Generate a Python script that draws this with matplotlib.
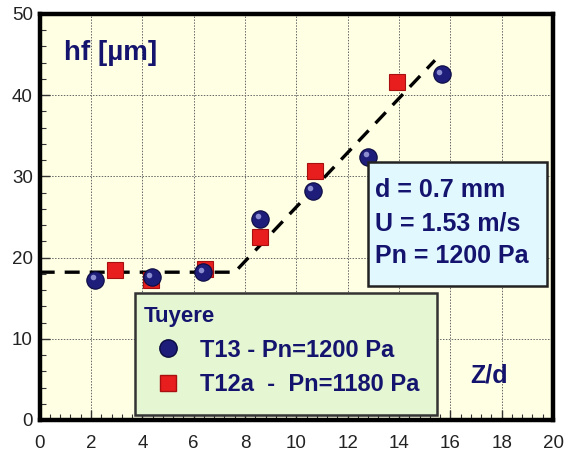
import matplotlib
matplotlib.use("Agg")
import matplotlib.pyplot as plt
from matplotlib.patches import Rectangle
from matplotlib.lines import Line2D
from matplotlib.transforms import offset_copy

# ---- data ----
t13_x = [2.16, 4.36, 6.38, 8.59, 10.64, 12.81, 15.67]
t13_y = [17.3, 17.55, 18.2, 24.8, 28.2, 32.4, 42.6]
t12a_x = [2.94, 4.32, 6.44, 8.59, 10.73, 13.93]
t12a_y = [18.5, 17.3, 18.6, 22.5, 30.7, 41.6]
fit_x = [0.0, 7.6, 15.4]
fit_y = [18.2, 18.2, 44.3]
x_ticks = [0, 2, 4, 6, 8, 10, 12, 14, 16, 18, 20]
y_ticks = [0, 10, 20, 30, 40, 50]
legend_title = "Tuyere"
label_t13 = "T13 - Pn=1200 Pa"
label_t12a = "T12a  -  Pn=1180 Pa"
info_lines = ["d = 0.7 mm", "U = 1.53 m/s", "Pn = 1200 Pa"]

NAVY = "#14146e"
BOLD = ["Liberation Sans", "DejaVu Sans"]

fig = plt.figure(figsize=(5.71, 4.58), dpi=100)
fig.patch.set_facecolor("white")
ax = fig.add_axes([0.0695, 0.083, 0.899, 0.8865])
ax.set_facecolor("#FFFFE4")
ax.set_xlim(0, 20)
ax.set_ylim(0, 50)

for s in ax.spines.values():
    s.set_linewidth(3.2)
    s.set_color("black")

ax.set_xticks(x_ticks)
ax.set_yticks(y_ticks)
ax.set_xticks([i * 0.4 for i in range(51)], minor=True)
ax.set_yticks([i * 2 for i in range(26)], minor=True)
ax.tick_params(which="both", direction="in", color="#333333")
ax.tick_params(which="major", length=7, width=1.0, labelsize=13.5, labelcolor="#222222")
ax.tick_params(which="minor", length=4, width=0.8)
ax.tick_params(axis="x", pad=11)
ax.tick_params(axis="y", pad=5)
for lab in ax.get_xticklabels() + ax.get_yticklabels():
    lab.set_family(["Liberation Sans", "DejaVu Sans"])

ax.grid(True, which="major", linestyle=(0, (1.5, 1.5)), color="#666666", linewidth=0.7)
ax.set_axisbelow(True)

# fit line
ax.plot(fit_x, fit_y, color="black", linewidth=2.4, linestyle=(0, (4.5, 3)), zorder=2)

# red squares
ax.plot(t12a_x, t12a_y, linestyle="none", marker="s", markersize=12,
        markerfacecolor="#E81E1E", markeredgecolor="#A81010", markeredgewidth=0.8, zorder=3)
# blue spheres
ax.plot(t13_x, t13_y, linestyle="none", marker="o", markersize=12.5,
        markerfacecolor="#1E1E7A", markeredgecolor="#0A0A40", markeredgewidth=0.8, zorder=4)
hl = offset_copy(ax.transData, fig=fig, x=-2.5, y=2.5, units="dots")
ax.plot(t13_x, t13_y, linestyle="none", marker="o", markersize=4,
        markerfacecolor="#8C8CD0", markeredgecolor="none", transform=hl, zorder=5)

# axis annotations
ax.text(0.047, 0.905, "hf [\u00b5m]", transform=ax.transAxes, fontsize=20,
        fontweight="bold", color=NAVY, family=BOLD, va="center", ha="left")
ax.text(0.838, 0.11, "Z/d", transform=ax.transAxes, fontsize=18,
        fontweight="bold", color=NAVY, family=BOLD, va="center", ha="left")

# info box
ax.add_patch(Rectangle((0.640, 0.330), 0.348, 0.305, transform=ax.transAxes,
                       facecolor="#E2F8FF", edgecolor="#222222", linewidth=1.8, zorder=6))
ax.text(0.654, 0.485, "\n".join(info_lines), transform=ax.transAxes, fontsize=18,
        fontweight="bold", color=NAVY, family=BOLD, va="center", ha="left",
        linespacing=1.47, zorder=7)

# legend box
ax.add_patch(Rectangle((0.186, 0.012), 0.588, 0.301, transform=ax.transAxes,
                       facecolor="#E4F6D2", edgecolor="#333333", linewidth=1.8, zorder=7))
handles = [
    Line2D([], [], linestyle="none", marker="o", markersize=12.5,
           markerfacecolor="#1E1E7A", markeredgecolor="#0A0A40"),
    Line2D([], [], linestyle="none", marker="s", markersize=12,
           markerfacecolor="#E81E1E", markeredgecolor="#A81010"),
]
leg = ax.legend(handles, [label_t13, label_t12a], title=legend_title,
                loc="upper left", bbox_to_anchor=(0.177, 0.313),
                alignment="left", frameon=False,
                borderpad=0.55, labelspacing=0.5, handlelength=2.1, handletextpad=0.3,
                borderaxespad=0,
                prop={"family": BOLD, "weight": "bold", "size": 17},
                title_fontproperties={"family": BOLD, "weight": "bold", "size": 16})
for t in leg.get_texts():
    t.set_color(NAVY)
leg.get_title().set_color(NAVY)
leg.set_zorder(8)

fig.savefig("out.png", dpi=100)
